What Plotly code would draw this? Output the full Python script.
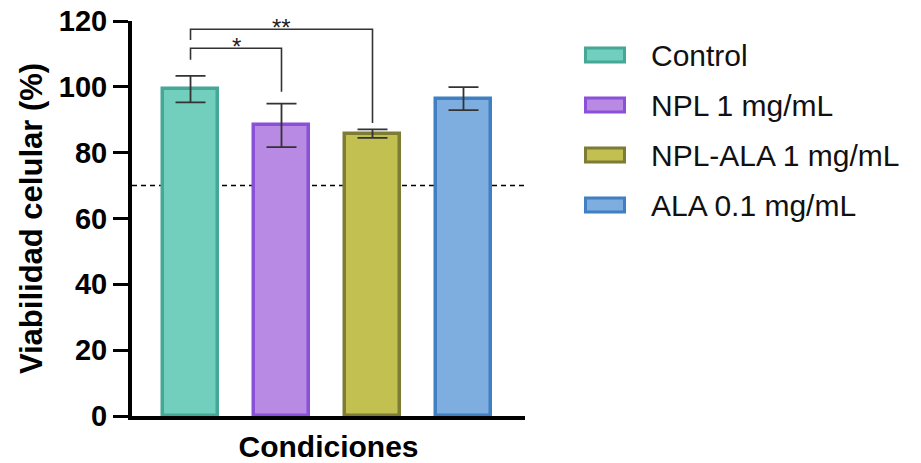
import plotly.graph_objects as go

# Cell viability per condition (mean ± SD)
conditions = ["Control", "NPL 1 mg/mL", "NPL-ALA 1 mg/mL", "ALA 0.1 mg/mL"]
viability = [99.3, 88.3, 85.8, 96.4]
viability_sd = [4.0, 6.6, 1.3, 3.5]
fill_colors = ["#72CFBD", "#B98AE3", "#C3C052", "#7EAEE0"]
edge_colors = ["#45A795", "#8A50D8", "#7E7B35", "#3F7FC2"]
y_ticks = [0, 20, 40, 60, 80, 100, 120]
threshold = 70

# Significance comparisons: (group a, group b, bracket top, leg a bottom, leg b bottom, label)
comparisons = [
    (0, 1, 111.7, 108.2, 98.5, "*"),
    (0, 2, 117.5, 114.2, 89.0, "**"),
]

FONT = "Liberation Sans, Arial, sans-serif"
W, H = 921, 463
L, R, T, B = 132, 396, 21, 47
plot_w, plot_h = W - L - R, H - T - B

fig = go.Figure()
x_pos = list(range(len(conditions)))
fig.add_trace(go.Bar(
    x=x_pos,
    y=viability,
    width=0.61,
    marker=dict(color=fill_colors, line=dict(color=edge_colors, width=3.5)),
    error_y=dict(type="data", array=viability_sd, visible=True,
                 color="#333333", thickness=1.8, width=15),
    showlegend=False,
))

shapes = []
# 70 % viability reference line
shapes.append(dict(type="line", xref="paper", yref="y", x0=0, x1=1,
                   y0=threshold, y1=threshold, layer="below",
                   line=dict(color="black", width=1.5, dash="5px,4px")))

annotations = []
for a, b, top, ya, yb, label in comparisons:
    shapes.append(dict(type="path", xref="x", yref="y",
                       path=f"M {a},{ya} L {a},{top} L {b},{top} L {b},{yb}",
                       line=dict(color="#333333", width=1.6)))
    annotations.append(dict(x=(a + b) / 2, y=top, xref="x", yref="y",
                            text=label, showarrow=False, yanchor="bottom",
                            yshift=-14,
                            font=dict(family=FONT, size=24, color="#222222")))

# Legend: swatch + label per condition
def px_to_paper_x(px):
    return (px - L) / plot_w

def px_to_paper_y(py):
    return (H - B - py) / plot_h

row_y = [55, 105, 155, 205]
for name, fc, ec, cy in zip(conditions, fill_colors, edge_colors, row_y):
    shapes.append(dict(type="rect", xref="paper", yref="paper",
                       x0=px_to_paper_x(585.5), x1=px_to_paper_x(624.5),
                       y0=px_to_paper_y(cy + 7), y1=px_to_paper_y(cy - 7),
                       fillcolor=fc, line=dict(color=ec, width=3)))
    annotations.append(dict(x=px_to_paper_x(649), y=px_to_paper_y(cy),
                            xref="paper", yref="paper", text=name,
                            showarrow=False, xanchor="left", yanchor="middle",
                            font=dict(family=FONT, size=30, color="#111111")))

fig.update_layout(
    width=W, height=H,
    margin=dict(l=L, r=R, t=T, b=B, autoexpand=False),
    paper_bgcolor="white", plot_bgcolor="white",
    shapes=shapes, annotations=annotations,
    bargap=0,
    xaxis=dict(
        range=[-0.643, 3.676], showticklabels=False, ticks="",
        showgrid=False, zeroline=False,
        showline=True, linecolor="black", linewidth=4,
        title=dict(text="<b>Condiciones</b>", standoff=20,
                   font=dict(family=FONT, size=30, color="black")),
    ),
    yaxis=dict(
        range=[0, 120], tickvals=y_ticks, ticks="outside", ticklen=15,
        tickwidth=3, tickcolor="black",
        tickfont=dict(family=FONT, size=29, color="black", weight="bold"),
        showgrid=False, zeroline=False,
        showline=True, linecolor="black", linewidth=4,
        title=dict(text="<b>Viabilidad celular (%)</b>", standoff=8,
                   font=dict(family=FONT, size=31, color="black")),
    ),
)

fig.write_html("out.html")
